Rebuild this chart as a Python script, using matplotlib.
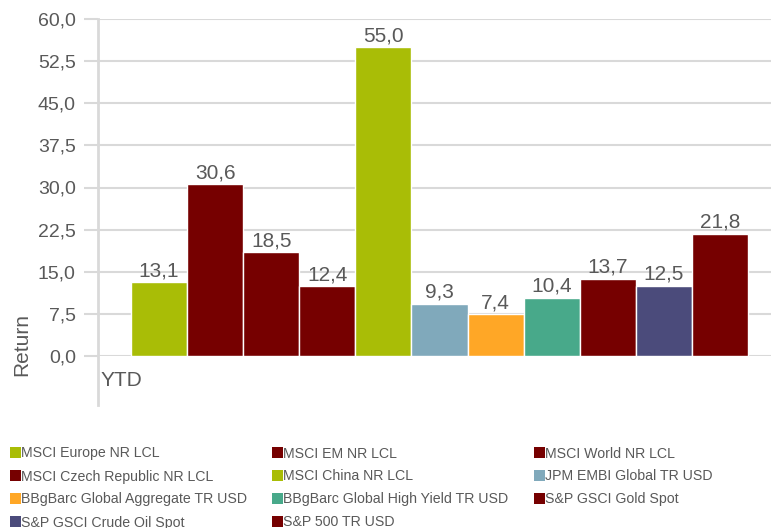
import matplotlib
matplotlib.use("Agg")
import matplotlib.pyplot as plt
from matplotlib.patches import Rectangle
from matplotlib.lines import Line2D

names = ["MSCI Europe NR LCL", "MSCI EM NR LCL", "MSCI World NR LCL",
         "MSCI Czech Republic NR LCL", "MSCI China NR LCL", "JPM EMBI Global TR USD",
         "BBgBarc Global Aggregate TR USD", "BBgBarc Global High Yield TR USD",
         "S&P GSCI Gold Spot", "S&P GSCI Crude Oil Spot", "S&P 500 TR USD"]
values = [13.1, 30.6, 18.5, 12.4, 55.0, 9.3, 7.4, 10.4, 13.7, 12.5, 21.8]
colors = ["#a9bd06", "#760000", "#760000", "#760000", "#a9bd06", "#80a9bb",
          "#ffa726", "#48a98a", "#760000", "#4b4b7b", "#760000"]
yticks = [0, 7.5, 15, 22.5, 30, 37.5, 45, 52.5, 60]

plt.rcParams['font.family'] = ['Liberation Sans', 'DejaVu Sans']
txt = "#595959"
grid = "#d9d9d9"
W, H = 771, 528

fig = plt.figure(figsize=(W / 100, H / 100), dpi=100)
ax = fig.add_axes([98 / W, (H - 356) / H, 673 / W, 337 / H])

xs = list(range(len(values)))
bars = ax.bar(xs, values, width=1.0, color=colors, edgecolor="white", linewidth=1, zorder=3)
for b, v in zip(bars, values):
    ax.annotate(f"{v:.1f}".replace(".", ","), (b.get_x() + b.get_width() / 2, v),
                xytext=(0, 1.5), textcoords="offset points", ha="center", va="bottom",
                fontsize=15, color=txt)

ax.set_xlim(-0.5 - 33 / 56.09, 10.5 + 23 / 56.09)
ax.set_ylim(0, 60)
ax.set_yticks(yticks)
ax.set_yticklabels([f"{t:.1f}".replace(".", ",") for t in yticks])
ax.tick_params(axis="y", length=10, width=1.5, color=grid, pad=6, labelsize=14, labelcolor=txt)
ax.set_xticks([])
ax.grid(axis="y", color=grid, linewidth=1.5, zorder=0)
for s in ax.spines.values():
    s.set_visible(False)

# category axis line, extends below the plot
ax.add_line(Line2D([0, 0], [-49 / 337, 1], transform=ax.transAxes, color=grid,
                   linewidth=2, clip_on=False, zorder=1))
ax.text(0.003, -25 / 337, "YTD", transform=ax.transAxes, ha="left", va="center",
        fontsize=15, color=txt)

fig.text(22 / W, 1 - 345 / H, "Return", rotation=90, ha="center", va="center",
         fontsize=15, color=txt)

# legend, row by row in three columns
col_x = [10, 272, 534]
row_y = [452, 475, 498, 521]
for i, (n, c) in enumerate(zip(names, colors)):
    x, y = col_x[i % 3], row_y[i // 3]
    fig.patches.append(Rectangle((x / W, (H - y - 5.5) / H), 11 / W, 11 / H,
                                 transform=fig.transFigure, facecolor=c, edgecolor="none"))
    fig.text((x + 11) / W, (H - y) / H, n, ha="left", va="center_baseline",
             fontsize=10.2, color=txt)

fig.savefig("out.png", dpi=100)
